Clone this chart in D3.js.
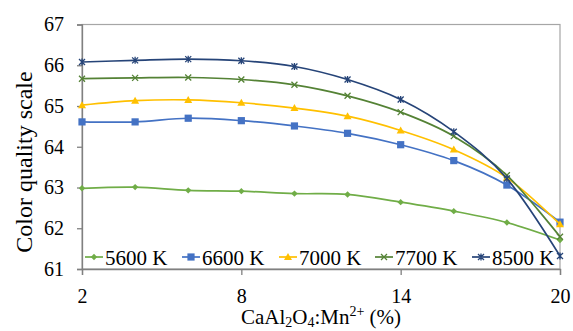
<!DOCTYPE html>
<html><head><meta charset="utf-8">
<script src="https://cdn.jsdelivr.net/npm/d3@7"></script>
<style>body{margin:0;background:#fff}svg{display:block}text{font-family:"Liberation Serif","Times New Roman",serif;fill:#000}</style>
</head><body><svg id="c" width="573" height="331"></svg>
<script>
const xValues = [2, 4, 6, 8, 10, 12, 14, 16, 18, 20];
const s5600 = [62.98, 63.01, 62.93, 62.91, 62.85, 62.83, 62.64, 62.42, 62.14, 61.71];
const s6600 = [64.61, 64.61, 64.70, 64.64, 64.51, 64.33, 64.05, 63.66, 63.06, 62.15];
const s7000 = [65.02, 65.13, 65.15, 65.08, 64.95, 64.75, 64.40, 63.93, 63.24, 62.10];
const s7700 = [65.67, 65.69, 65.70, 65.65, 65.52, 65.25, 64.85, 64.26, 63.30, 61.79];
const s8500 = [66.08, 66.12, 66.15, 66.11, 65.97, 65.65, 65.16, 64.37, 63.22, 61.32];
const seriesNames = ["5600 K", "6600 K", "7000 K", "7700 K", "8500 K"];
const xTicks = [2, 8, 14, 20];
const yTicks = [61, 62, 63, 64, 65, 66, 67];

const seriesData = [s5600, s6600, s7000, s7700, s8500];
const colors = ["#70AD47", "#4472C4", "#FFC000", "#548235", "#264478"];
const markers = ["diamond", "square", "triangle", "x", "star"];

const FONT = '"Liberation Serif","Times New Roman",serif';
const svg = d3.select("#c");
const L = 82, R = 560, T = 24.5, B = 269;
const x = d3.scaleLinear().domain([2, 20]).range([L, R]);
const y = d3.scaleLinear().domain([61, 67]).range([B, T]);

// frame
svg.append("rect").attr("x", L).attr("y", T).attr("width", R - L).attr("height", B - T)
  .attr("fill", "none").attr("stroke", "#a6a6a6").attr("stroke-width", 1.2);

// axes
const yAxis = svg.append("g").attr("transform", `translate(${L},0)`)
  .call(d3.axisLeft(y).tickValues(yTicks).tickSize(5).tickPadding(13).tickFormat(d3.format("d")));
const xAxis = svg.append("g").attr("transform", `translate(0,${B})`)
  .call(d3.axisBottom(x).tickValues(xTicks).tickSize(6).tickPadding(14).tickFormat(d3.format("d")));
[yAxis, xAxis].forEach(g => {
  g.attr("font-family", null);
  g.select(".domain").attr("stroke", "#808080").attr("stroke-width", 1.3);
  g.selectAll(".tick line").attr("stroke", "#808080").attr("stroke-width", 1.3);
  g.selectAll(".tick text").style("font-family", FONT).style("font-size", "20px").attr("fill", "#000");
});

function drawMarker(g, type, cx, cy, color) {
  if (type === "diamond") {
    g.append("path").attr("d", `M${cx},${cy-3.2}L${cx+3.2},${cy}L${cx},${cy+3.2}L${cx-3.2},${cy}Z`).attr("fill", color);
  } else if (type === "square") {
    g.append("rect").attr("x", cx - 3.6).attr("y", cy - 3.6).attr("width", 7.2).attr("height", 7.2).attr("fill", color);
  } else if (type === "triangle") {
    g.append("path").attr("d", `M${cx},${cy-4}L${cx+4},${cy+3}L${cx-4},${cy+3}Z`).attr("fill", color);
  } else if (type === "x") {
    g.append("path").attr("d", `M${cx-3},${cy-3}L${cx+3},${cy+3}M${cx+3},${cy-3}L${cx-3},${cy+3}`).attr("stroke", color).attr("stroke-width", 1.3);
  } else if (type === "star") {
    g.append("path").attr("d", `M${cx-3},${cy-3}L${cx+3},${cy+3}M${cx+3},${cy-3}L${cx-3},${cy+3}M${cx},${cy-3.5}L${cx},${cy+3.5}`).attr("stroke", color).attr("stroke-width", 1.3);
  }
}

const line = d3.line().x(d => x(d[0])).y(d => y(d[1])).curve(d3.curveCatmullRom.alpha(0));
seriesData.forEach((vals, i) => {
  const pts = xValues.map((xv, j) => [xv, vals[j]]);
  const g = svg.append("g");
  g.append("path").attr("d", line(pts)).attr("fill", "none").attr("stroke", colors[i]).attr("stroke-width", 1.7);
  pts.forEach(p => drawMarker(g, markers[i], x(p[0]), y(p[1]), colors[i]));
});

// legend
const legX = [85, 182, 279, 375, 472];
seriesNames.forEach((name, i) => {
  const g = svg.append("g");
  g.append("line").attr("x1", legX[i]).attr("x2", legX[i] + 18).attr("y1", 257).attr("y2", 257)
    .attr("stroke", colors[i]).attr("stroke-width", 1.7);
  drawMarker(g, markers[i], legX[i] + 9, 257, colors[i]);
  g.append("text").attr("x", legX[i] + 20).attr("y", 264.5).style("font-family", FONT).style("font-size", "21px").text(name);
});

// axis titles
const xt = svg.append("text").attr("x", (L + R) / 2).attr("y", 324).attr("text-anchor", "middle")
  .style("font-family", FONT).style("font-size", "21px");
xt.append("tspan").text("CaAl");
xt.append("tspan").attr("dy", 3).style("font-size", "14px").text("2");
xt.append("tspan").attr("dy", -3).text("O");
xt.append("tspan").attr("dy", 3).style("font-size", "14px").text("4");
xt.append("tspan").attr("dy", -3).text(":Mn");
xt.append("tspan").attr("dy", -8).style("font-size", "14px").text("2+");
xt.append("tspan").attr("dy", 8).text(" (%)");

svg.append("text").attr("transform", `translate(32,162) rotate(-90)`)
  .attr("text-anchor", "middle").style("font-family", FONT).style("font-size", "24px").text("Color quality scale");
</script></body></html>
